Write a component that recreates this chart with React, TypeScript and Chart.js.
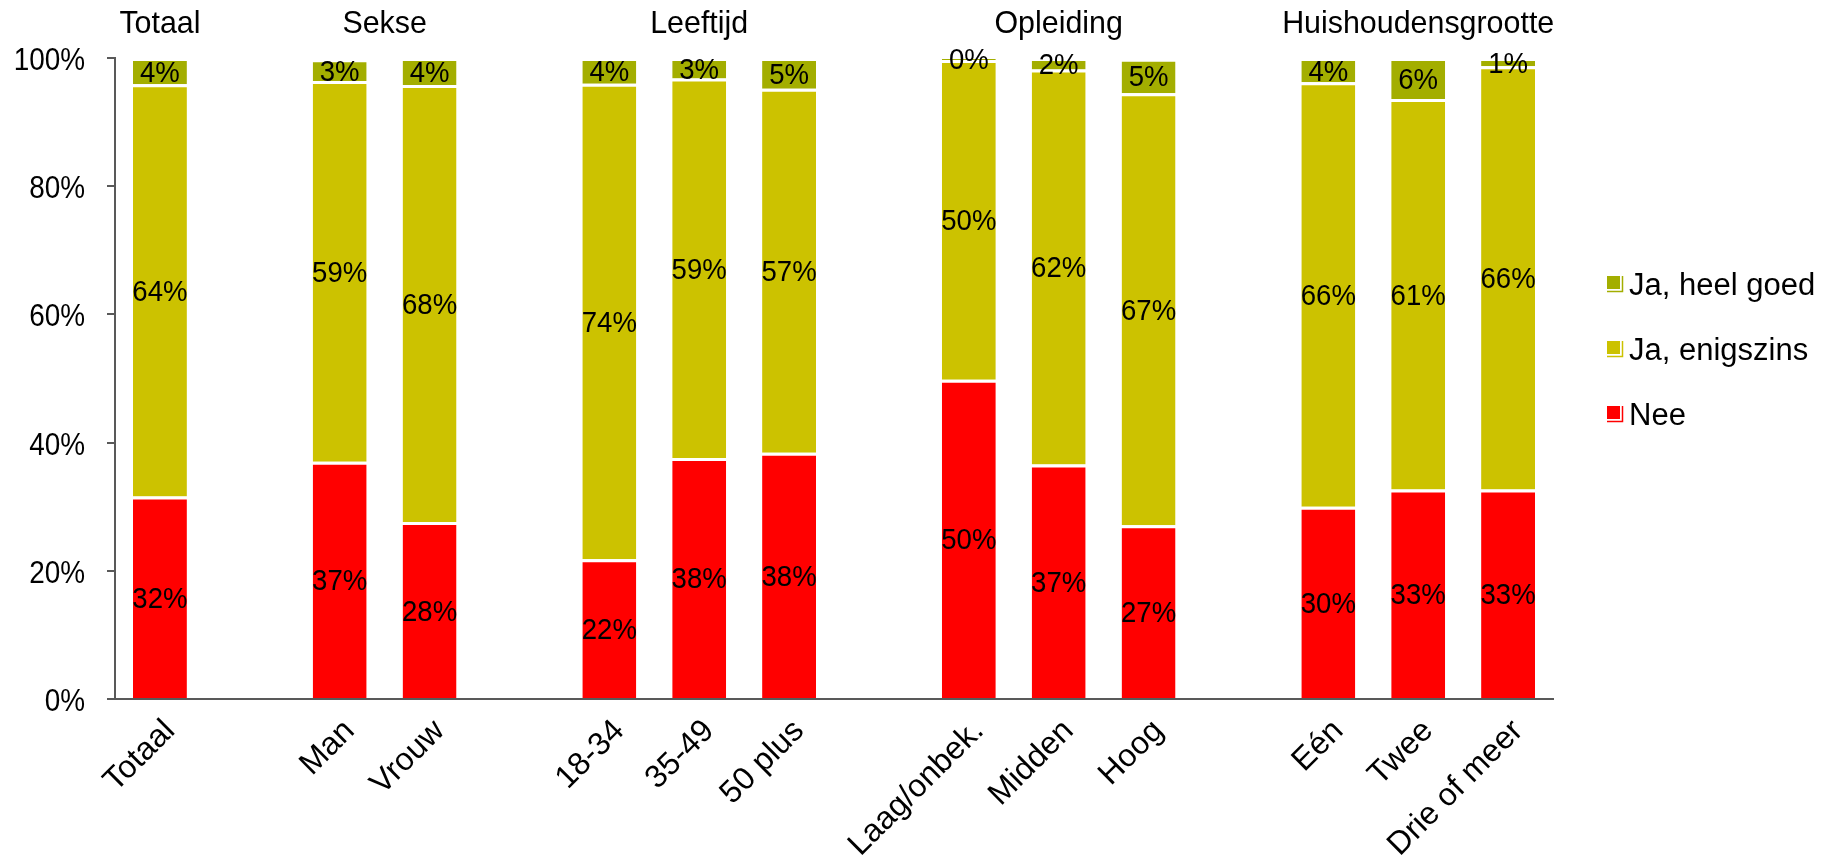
import React, { useEffect, useRef } from 'react';
import { Chart, registerables } from 'chart.js';

Chart.register(...registerables);

// Group headings drawn above the bars, and the categories inside each group
const groupTitles = ['Totaal', 'Sekse', 'Leeftijd', 'Opleiding', 'Huishoudensgrootte'];
const groupCategories = [
  ['Totaal'],
  ['Man', 'Vrouw'],
  ['18-34', '35-49', '50 plus'],
  ['Laag/onbek.', 'Midden', 'Hoog'],
  ['Eén', 'Twee', 'Drie of meer'],
];

// Shares in percent, one value per category (flattened group order)
const nee = [31.6, 37.0, 27.6, 21.8, 37.6, 38.4, 49.8, 36.6, 27.1, 30.0, 32.7, 32.7];
const enigszins = [64.3, 59.4, 68.2, 74.2, 59.2, 56.8, 49.9, 61.6, 67.4, 66.2, 60.9, 66.0];
const heelGoed = [4.1, 3.4, 4.2, 4.0, 3.2, 4.8, 0.3, 1.8, 5.4, 3.8, 6.4, 1.3];

const seriesNames = ['Nee', 'Ja, enigszins', 'Ja, heel goed'];
const seriesColors = ['#FF0000', '#CCC200', '#A3AE00'];
const yTicks = [0, 20, 40, 60, 80, 100];

const FONT = 'Liberation Sans, Arial, sans-serif';

// Insert an empty slot between groups so the bars fall into separate clusters
function buildSlots() {
  const labels: string[] = [];
  const index: (number | null)[] = [];
  const groupSlots: number[][] = [];
  let k = 0;
  groupCategories.forEach((cats, g) => {
    if (g > 0) {
      labels.push('');
      index.push(null);
    }
    const slots: number[] = [];
    cats.forEach((c) => {
      slots.push(labels.length);
      labels.push(c);
      index.push(k++);
    });
    groupSlots.push(slots);
  });
  return { labels, index, groupSlots };
}

const slots = buildSlots();
const spread = (values: number[]) => slots.index.map((i) => (i === null ? null : values[i]));

// Text with a slightly narrowed glyph width
function drawText(
  ctx: CanvasRenderingContext2D,
  text: string,
  x: number,
  y: number,
  size: number,
  align: CanvasTextAlign,
  squeeze = 1,
  baseline: CanvasTextBaseline = 'alphabetic',
) {
  ctx.save();
  ctx.translate(x, y);
  ctx.scale(squeeze, 1);
  ctx.font = `${size}px ${FONT}`;
  ctx.textAlign = align;
  ctx.textBaseline = baseline;
  ctx.fillStyle = '#000';
  ctx.fillText(text, 0, 0);
  ctx.restore();
}

const overlayPlugin = {
  id: 'overlay',
  afterDatasetsDraw(chart: any) {
    const { ctx } = chart;
    // value labels centred in each segment
    chart.data.datasets.forEach((ds: any, di: number) => {
      const meta = chart.getDatasetMeta(di);
      meta.data.forEach((el: any, i: number) => {
        const v = ds.data[i];
        if (v === null || v === undefined) return;
        const yMid = (el.y + el.base) / 2;
        drawText(ctx, `${Math.round(v)}%`, el.x, yMid + 10.5, 29, 'center', 0.95);
      });
    });
  },
  afterDraw(chart: any) {
    const { ctx } = chart;
    const xScale = chart.scales.x;
    const yScale = chart.scales.y;

    // y axis tick labels
    yTicks.forEach((v) => {
      const y = yScale.getPixelForValue(v);
      drawText(ctx, `${v}%`, 85, y + 12, 31, 'right', 0.9);
    });

    // rotated category labels
    slots.labels.forEach((lab, i) => {
      if (!lab) return;
      const x = xScale.getPixelForValue(i);
      ctx.save();
      ctx.translate(x + 10, chart.chartArea.bottom + 27);
      ctx.rotate(-Math.PI / 4);
      ctx.font = `32px ${FONT}`;
      ctx.textAlign = 'right';
      ctx.textBaseline = 'middle';
      ctx.fillStyle = '#000';
      ctx.fillText(lab, 0, 0);
      ctx.restore();
    });

    // group headings centred over their bars
    slots.groupSlots.forEach((s, g) => {
      const xs = s.map((i) => xScale.getPixelForValue(i));
      const cx = (Math.min(...xs) + Math.max(...xs)) / 2;
      drawText(ctx, groupTitles[g], cx, 33, 32, 'center', 0.95);
    });

    // legend, top item is the top stack segment
    const legendX = 1607;
    const legendY = [284, 349, 414];
    const order = [2, 1, 0];
    order.forEach((si, row) => {
      const y = legendY[row];
      const color = seriesColors[si];
      ctx.save();
      ctx.fillStyle = color;
      ctx.fillRect(legendX, y - 8, 13, 13);
      ctx.strokeStyle = color;
      ctx.lineWidth = 1.5;
      ctx.beginPath();
      ctx.moveTo(legendX, y + 7.5);
      ctx.lineTo(legendX + 15.5, y + 7.5);
      ctx.lineTo(legendX + 15.5, y - 8);
      ctx.stroke();
      ctx.restore();
      drawText(ctx, seriesNames[si], legendX + 22, y + 11, 31, 'left');
    });
  },
};

export default function App() {
  const canvasRef = useRef<HTMLCanvasElement | null>(null);

  useEffect(() => {
    document.body.style.margin = '0';
    const canvas = canvasRef.current;
    if (!canvas) return;

    const datasets = [nee, enigszins, heelGoed].map((values, si) => ({
      label: seriesNames[si],
      data: spread(values),
      backgroundColor: seriesColors[si],
      borderColor: '#FFFFFF',
      borderWidth: { top: 3, left: 0, right: 0, bottom: 0 },
      borderSkipped: 'start',
      categoryPercentage: 1,
      barPercentage: 0.6,
    }));

    const chart = new Chart(canvas, {
      type: 'bar',
      data: { labels: slots.labels, datasets },
      options: {
        animation: false,
        responsive: false,
        layout: { padding: { top: 58, right: 269, left: 0, bottom: 0 } },
        plugins: {
          legend: { display: false },
          tooltip: { enabled: false },
        },
        scales: {
          x: {
            stacked: true,
            grid: { display: false, drawTicks: false },
            border: { display: true, color: '#595959', width: 2 },
            ticks: {
              autoSkip: false,
              minRotation: 45,
              maxRotation: 45,
              color: 'rgba(0,0,0,0)',
              font: { family: FONT, size: 28 },
            },
            afterFit: (scale: any) => {
              scale.height = 157;
            },
          },
          y: {
            stacked: true,
            min: 0,
            max: 100,
            afterBuildTicks: (scale: any) => {
              scale.ticks = yTicks.map((v) => ({ value: v }));
            },
            grid: {
              drawOnChartArea: false,
              drawTicks: true,
              tickLength: 8,
              color: '#595959',
              lineWidth: 2,
            },
            border: { display: true, color: '#595959', width: 2 },
            ticks: {
              padding: 22,
              color: 'rgba(0,0,0,0)',
              font: { family: FONT, size: 28 },
              callback: (v: any) => `${v}%`,
            },
            afterFit: (scale: any) => {
              scale.width = 115;
            },
          },
        },
      },
      plugins: [overlayPlugin],
    } as any);

    return () => chart.destroy();
  }, []);

  return (
    <div style={{ width: 1822, height: 856, background: '#fff' }}>
      <canvas ref={canvasRef} width={1822} height={856} style={{ display: 'block' }} />
    </div>
  );
}
